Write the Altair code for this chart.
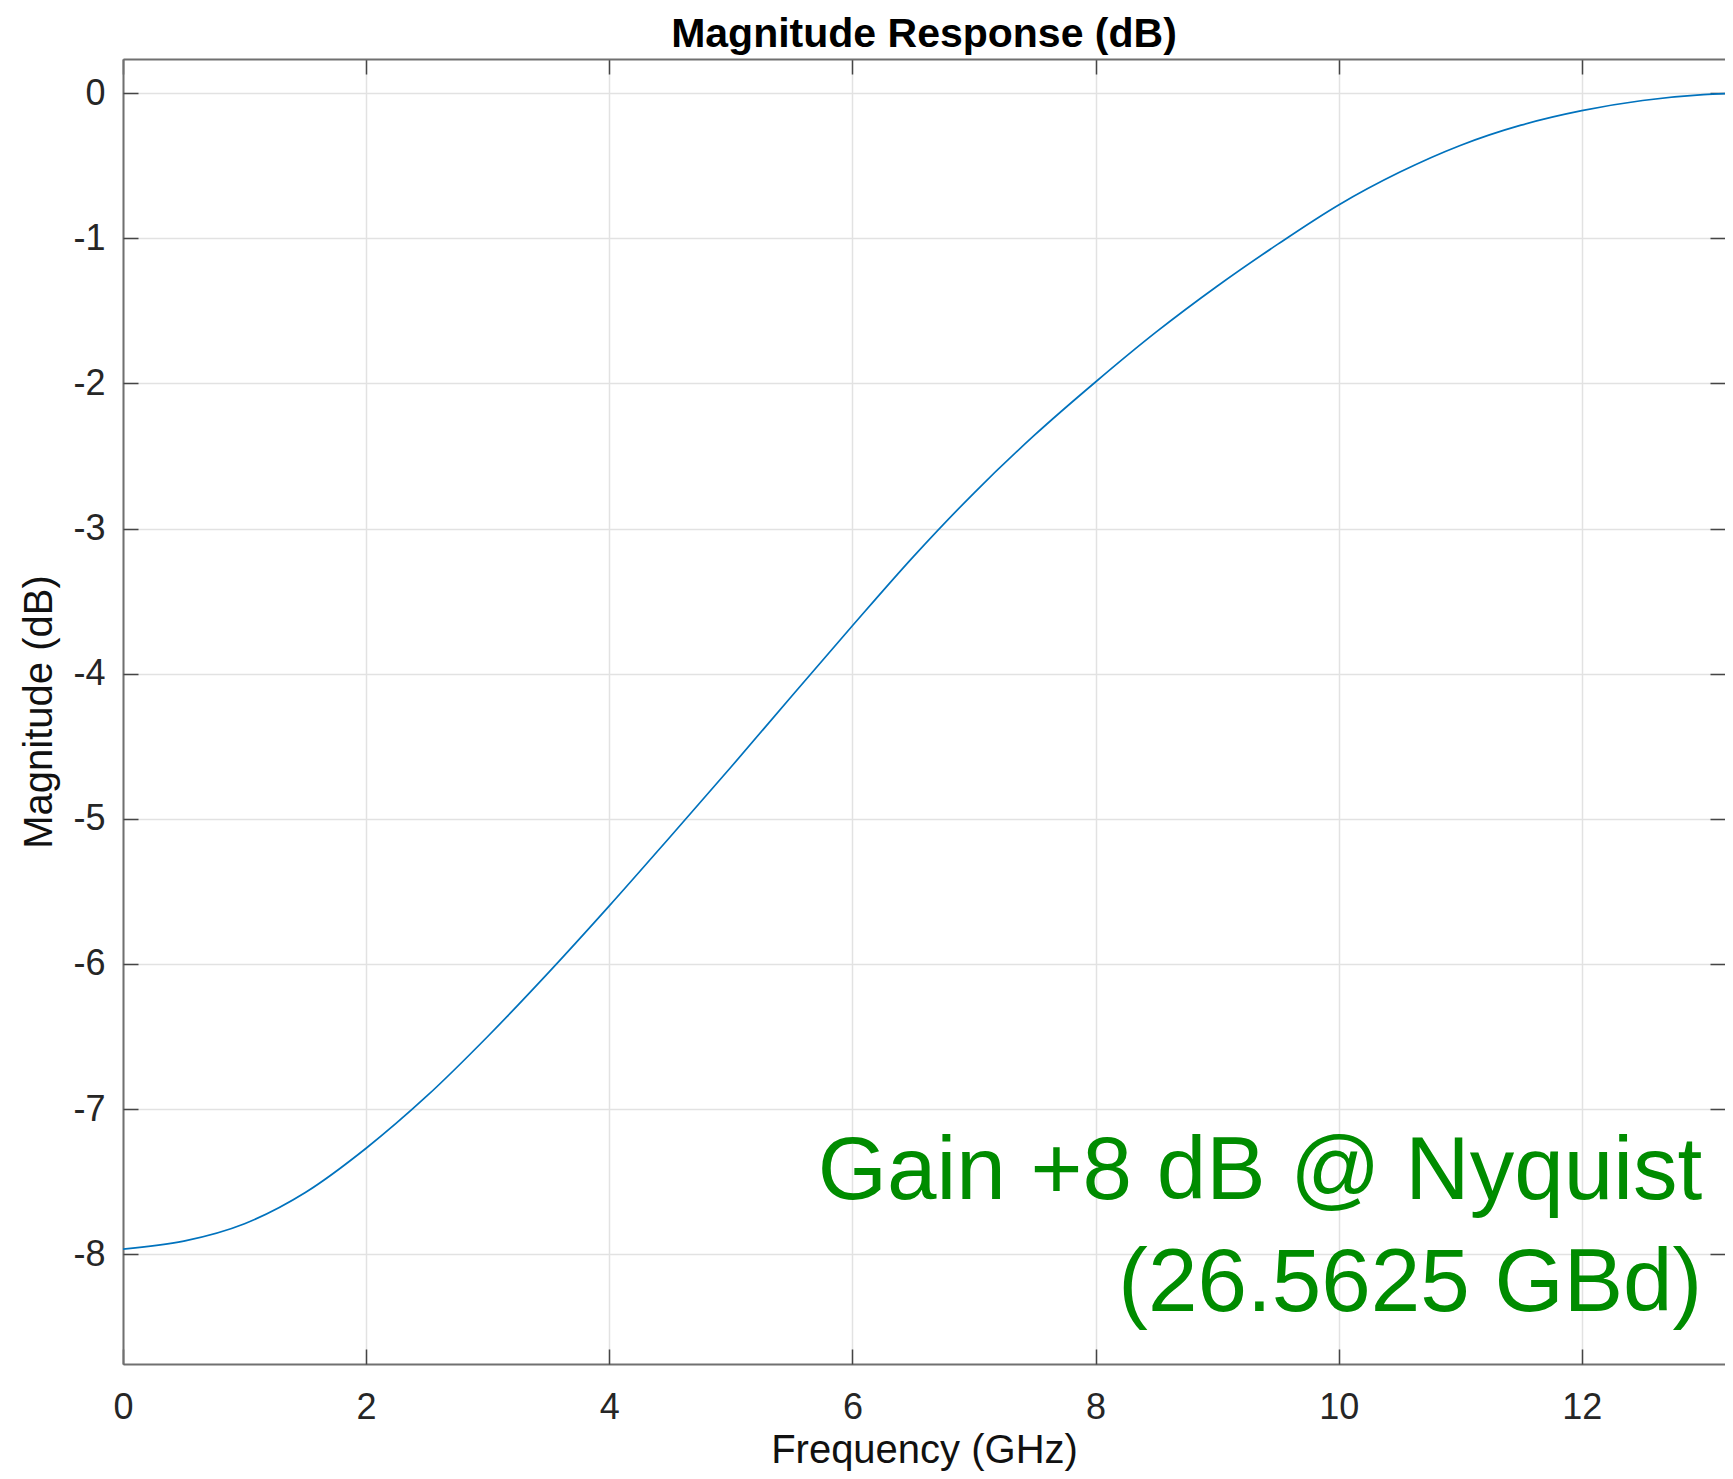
import altair as alt
import pandas as pd

# ---- data ----
freq_ghz = [0.0, 0.5, 1.0, 1.5, 2.0, 2.5, 3.0, 3.5, 4.0, 4.5, 5.0, 5.5, 6.0, 6.5,
            7.0, 7.5, 8.0, 8.5, 9.0, 9.5, 10.0, 10.5, 11.0, 11.5, 12.0, 12.5, 13.0, 13.28]
mag_db = [-7.965, -7.91, -7.79, -7.575, -7.27, -6.91, -6.50, -6.06, -5.60, -5.125,
          -4.645, -4.155, -3.67, -3.195, -2.755, -2.355, -1.99, -1.645, -1.33, -1.04,
          -0.77, -0.545, -0.36, -0.22, -0.12, -0.05, -0.01, 0.0]

x_ticks = [0, 2, 4, 6, 8, 10, 12]
y_ticks = [0, -1, -2, -3, -4, -5, -6, -7, -8]

ann_text = ["Gain +8 dB @ Nyquist", "(26.5625 GBd)"]
ann_x = [12.99, 12.99]
ann_y = [-7.62, -8.39]

x_domain = [0, 13.178]
y_domain = [-8.757, 0.236]

df = pd.DataFrame({"f": freq_ghz, "m": mag_db})
ann = pd.DataFrame({"t": ann_text, "x": ann_x, "y": ann_y})

FONT = "Liberation Sans"
xscale = alt.Scale(domain=x_domain, nice=False, zero=False)
yscale = alt.Scale(domain=y_domain, nice=False, zero=False)

base = alt.Chart(df)

main = base.mark_line(color="#0072BD", strokeWidth=1.7, clip=True, interpolate="monotone").encode(
    x=alt.X("f:Q", scale=xscale, axis=alt.Axis(
        orient="bottom", values=x_ticks, title="Frequency (GHz)", grid=True,
        gridColor="#e2e2e2", gridWidth=1.5, ticks=False, tickSize=0, domain=True,
        domainColor="#707070", domainWidth=2, labelFont=FONT, labelFontSize=36,
        labelColor="#262626", labelPadding=26, labelFlush=False, titleFont=FONT,
        titleFontSize=40, titleFontWeight="normal", titleColor="#111111",
        titlePadding=5)),
    y=alt.Y("m:Q", scale=yscale, axis=alt.Axis(
        orient="left", values=y_ticks, title="Magnitude (dB)", grid=True,
        gridColor="#e2e2e2", gridWidth=1.5, ticks=False, tickSize=0, domain=True,
        domainColor="#707070", domainWidth=2, labelFont=FONT, labelFontSize=36,
        labelColor="#262626", labelPadding=18, labelFlush=False,
        labelExpr="toString(datum.value)", titleFont=FONT, titleFontSize=40,
        titleFontWeight="normal", titleColor="#111111", titlePadding=13)),
)

tick_style = dict(labels=False, domain=False, grid=False, ticks=True, tickSize=15,
                  tickColor="#454545", tickWidth=1.5, offset=-15, title=None,
                  minExtent=0)

ticks_bl = base.mark_line(opacity=0).encode(
    x=alt.X("f:Q", scale=xscale, axis=alt.Axis(orient="bottom", values=x_ticks, **tick_style)),
    y=alt.Y("m:Q", scale=yscale, axis=alt.Axis(orient="left", values=y_ticks, **tick_style)),
)

ticks_tr = base.mark_line(opacity=0).encode(
    x=alt.X("f:Q", scale=xscale, axis=alt.Axis(orient="top", values=x_ticks, **tick_style)),
    y=alt.Y("m:Q", scale=yscale, axis=alt.Axis(orient="right", values=y_ticks, **tick_style)),
)

top_border = base.mark_line(opacity=0).encode(
    x=alt.X("f:Q", scale=xscale, axis=alt.Axis(
        orient="top", values=x_ticks, labels=False, ticks=False, tickSize=0, grid=False,
        domain=True, domainColor="#707070", domainWidth=2, title=None, minExtent=0)),
    y=alt.Y("m:Q", scale=yscale, axis=None),
)

label = alt.Chart(ann).mark_text(
    align="right", baseline="alphabetic", font=FONT, fontSize=89, color="#008c00"
).encode(
    x=alt.X("x:Q", scale=xscale, axis=None),
    y=alt.Y("y:Q", scale=yscale, axis=None),
    text="t:N",
)

chart = alt.layer(main, ticks_bl, ticks_tr, top_border, label).resolve_axis(
    x="independent", y="independent"
).properties(
    width=1602,
    height=1305,
    autosize=alt.AutoSizeParams(type="none"),
    padding={"left": 115, "top": 51, "right": 0, "bottom": 107},
    title=alt.TitleParams(
        "Magnitude Response (dB)", font=FONT, fontSize=41, fontWeight="bold",
        color="#000000", baseline="alphabetic", offset=-29.5, anchor="middle"),
).configure_view(stroke="transparent")

chart.save("out.html", embed_options={"renderer": "svg", "actions": False})
